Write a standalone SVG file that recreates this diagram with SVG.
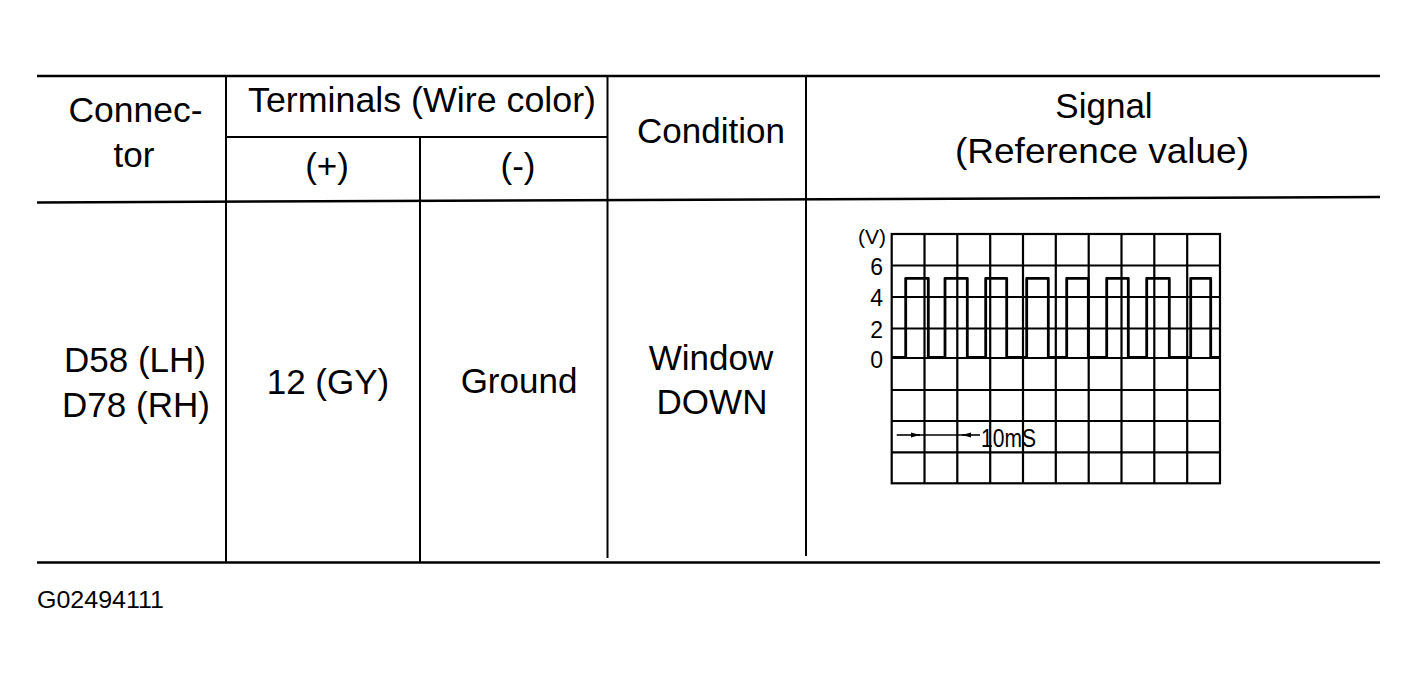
<svg xmlns="http://www.w3.org/2000/svg" width="1417" height="683" viewBox="0 0 1417 683">
<style>
  .t { font-family: "Liberation Sans", Arial, sans-serif; fill: #000; }
  .h { font-size: 35px; text-anchor: middle; }
  .ax { font-size: 22px; text-anchor: end; }
  .rule { stroke: #000; stroke-width: 2.5; fill: none; }
  .vl { stroke: #000; stroke-width: 2; fill: none; }
  .grid { stroke: #000; stroke-width: 2.2; fill: none; }
  .wave { stroke: #000; stroke-width: 2.8; fill: none; stroke-linejoin: round; }
</style>
<defs>
  <marker id="ah" markerWidth="10" markerHeight="8" refX="9" refY="4" orient="auto" markerUnits="userSpaceOnUse">
    <path d="M0,1.5 L9,4 L0,6.5 Z" fill="#000"/>
  </marker>
</defs>
<rect width="1417" height="683" fill="#fff"/>

<g id="table-lines">
  <line class="rule" x1="37" y1="76" x2="1380" y2="76"/>
  <line class="rule" x1="37" y1="202.5" x2="1380" y2="197"/>
  <line class="rule" x1="37" y1="562.5" x2="1380" y2="562.5"/>
  <line class="vl" x1="226" y1="137" x2="607" y2="137"/>
  <line class="vl" x1="226" y1="76" x2="226" y2="562"/>
  <line class="vl" x1="420" y1="137" x2="420" y2="562"/>
  <line class="vl" x1="607.5" y1="76" x2="607.5" y2="558"/>
  <line class="vl" x1="806" y1="76" x2="806" y2="556"/>
</g>

<g id="header-connector">
  <text class="t h" x="135.5" y="122" textLength="134" lengthAdjust="spacingAndGlyphs">Connec-</text>
  <text class="t h" x="134" y="167">tor</text>
</g>
<g id="header-terminals">
  <text class="t h" x="422" y="112" textLength="348" lengthAdjust="spacingAndGlyphs">Terminals (Wire color)</text>
</g>
<g id="header-plus">
  <text class="t h" x="327" y="178">(+)</text>
</g>
<g id="header-minus">
  <text class="t h" x="518" y="178">(-)</text>
</g>
<g id="header-condition">
  <text class="t h" x="711" y="143">Condition</text>
</g>
<g id="header-signal">
  <text class="t h" x="1104" y="118">Signal</text>
  <text class="t h" x="1102" y="163" textLength="294" lengthAdjust="spacingAndGlyphs">(Reference value)</text>
</g>

<g id="cell-connector">
  <text class="t h" x="135" y="372">D58 (LH)</text>
  <text class="t h" x="136" y="417">D78 (RH)</text>
</g>
<g id="cell-plus">
  <text class="t h" x="328" y="394">12 (GY)</text>
</g>
<g id="cell-minus">
  <text class="t h" x="519" y="393">Ground</text>
</g>
<g id="cell-condition">
  <text class="t h" x="711" y="370">Window</text>
  <text class="t h" x="712" y="414">DOWN</text>
</g>

<g id="scope">
  <g id="scope-grid" class="grid">
    <rect x="891.7" y="234" width="328.3" height="249.3"/>
    <path d="M924.5,234V483.3 M957.3,234V483.3 M990.2,234V483.3 M1023,234V483.3 M1055.8,234V483.3 M1088.7,234V483.3 M1121.5,234V483.3 M1154.3,234V483.3 M1187.2,234V483.3"/>
    <path d="M891.7,265.5H1220 M891.7,297H1220 M891.7,328.5H1220 M891.7,358H1220 M891.7,390H1220 M891.7,421H1220 M891.7,452.3H1220"/>
  </g>
  <g id="scope-axis">
    <text class="t ax" x="886" y="244" style="font-size:21px">(V)</text>
    <text class="t ax" x="883" y="275" style="font-size:23px">6</text>
    <text class="t ax" x="883" y="306" style="font-size:23px">4</text>
    <text class="t ax" x="883" y="338" style="font-size:23px">2</text>
    <text class="t ax" x="883" y="368" style="font-size:23px">0</text>
  </g>
  <path id="scope-wave" class="wave" d="M891.7,357.5 H905.7 V278.3 H928.3 V357.5 H945 V278.3 H967.3 V357.5 H985.7 V278.3 H1006.7 V357.5 H1026.7 V278.3 H1048.3 V357.5 H1066.7 V278.3 H1088.3 V357.5 H1106.7 V278.3 H1128.3 V357.5 H1146.7 V278.3 H1169.3 V357.5 H1190.7 V278.3 H1210.7 V357.5 H1220"/>
  <g id="scope-timebase">
    <line x1="896.7" y1="435" x2="920" y2="435" stroke="#000" stroke-width="1.6" marker-end="url(#ah)"/>
    <line x1="980" y1="435" x2="962" y2="435" stroke="#000" stroke-width="1.6" marker-end="url(#ah)"/>
    <line x1="918" y1="435" x2="964" y2="435" stroke="#000" stroke-width="1.6"/>
    <text class="t" x="981" y="447" style="font-size:26px" textLength="55" lengthAdjust="spacingAndGlyphs">10mS</text>
  </g>
</g>

<g id="figure-code">
  <text class="t" x="37" y="608" style="font-size:24px" textLength="127" lengthAdjust="spacingAndGlyphs">G02494111</text>
</g>
</svg>
